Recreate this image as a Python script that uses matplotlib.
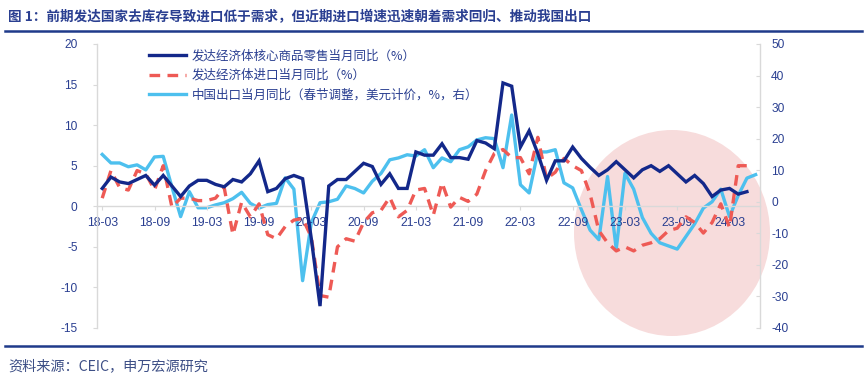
import matplotlib
matplotlib.use("Agg")
import matplotlib.pyplot as plt
from matplotlib.patches import Ellipse
from matplotlib.lines import Line2D

plt.rcParams['font.family'] = ['Noto Sans CJK SC', 'DejaVu Sans']
plt.rcParams['axes.unicode_minus'] = False

# ---- data (monthly, starting 2018-03) ----
tick_labels = ["18-03", "18-09", "19-03", "19-09", "20-03", "20-09", "21-03",
               "21-09", "22-03", "22-09", "23-03", "23-09", "24-03"]

core_retail = [2.2, 3.6, 3.0, 2.8, 3.3, 3.8, 2.6, 3.8, 2.5, 1.2, 2.5, 3.2,
               3.2, 2.7, 2.4, 3.3, 3.0, 4.0, 5.6, 1.8, 2.2, 3.4, 3.8, 3.4,
               -4.0, -12.3, 2.5, 3.3, 3.3, 4.3, 5.3, 4.9, 2.7, 4.0, 2.2, 2.2,
               6.7, 6.3, 6.3, 7.7, 6.0, 6.0, 5.8, 8.1, 7.8, 7.1, 15.2, 14.8,
               7.3, 9.3, 6.5, 3.2, 5.6, 5.6, 7.3, 5.9, 4.8, 3.8, 4.5, 5.5,
               4.5, 3.5, 4.5, 5.0, 4.3, 5.0, 4.0, 3.0, 3.8, 2.8, 1.2, 2.0,
               2.2, 1.5, 1.8]

dm_imports = [1.0, 4.4, 2.3, 2.0, 4.4, 4.0, 2.0, 5.0, -0.1, 1.0, 1.0, 0.7,
              0.7, 1.0, 2.3, -3.5, 0.5, -1.3, 0.3, -3.5, -4.0, -2.5, -1.7, -1.5,
              -3.8, -11.0, -11.2, -5.0, -4.0, -4.3, -2.0, -0.8, -0.5, 1.1, -1.3, -0.5,
              2.0, 2.2, -1.1, 2.9, -0.1, 1.1, 0.6, 1.5, 4.4, 6.5, 7.0, 6.0,
              6.0, 4.0, 8.5, 3.4, 4.2, 5.9, 5.0, 4.4, 1.5, -3.0, -4.5, -5.5,
              -5.0, -5.5, -4.8, -4.5, -4.0, -3.0, -2.7, -1.3, -2.0, -3.3, -2.0, 0.3,
              -2.6, 5.0, 5.0]

china_exports = [15.0, 12.3, 12.3, 11.1, 11.7, 10.1, 14.2, 14.4, 4.7, -4.7, 3.2, -1.9,
                 -1.9, -1.0, -0.3, 1.0, 3.0, -0.5, -2.0, -0.9, -0.5, 7.6, 4.0, -25.0,
                 -6.6, -0.3, 0.0, 0.8, 5.0, 4.2, 2.8, 6.5, 9.0, 13.3, 13.9, 14.9,
                 14.5, 16.5, 10.8, 13.9, 12.7, 16.5, 17.4, 19.6, 20.3, 20.0, 10.8, 27.5,
                 5.4, 2.8, 15.8, 15.8, 16.5, 6.0, 4.4, -2.5, -9.0, -12.0, 8.0, -15.0,
                 9.0, 4.0, -5.0, -10.0, -13.0, -14.0, -15.0, -11.0, -7.0, -2.0, 0.0, 4.0,
                 -4.7, 2.0, 7.5, 8.6]

legend_labels = ["发达经济体核心商品零售当月同比（%）",
                 "发达经济体进口当月同比（%）",
                 "中国出口当月同比（春节调整，美元计价，%，右）"]

title = "图 1：前期发达国家去库存导致进口低于需求，但近期进口增速迅速朝着需求回归、推动我国出口"
source = "资料来源：CEIC，申万宏源研究"

# ---- styles ----
NAVY = "#13288a"
RED = "#ee5a55"
LBLUE = "#4dc0ee"
TXT = "#2a3f91"
GRID = "#d9d9d9"

W, H = 865, 379
fig = plt.figure(figsize=(W / 100, H / 100), dpi=100)
fig.patch.set_facecolor("white")

ax = fig.add_axes([97 / W, 1 - 328 / H, (760 - 97) / W, (328 - 44) / H])
ax2 = ax.twinx()
ax.set_zorder(ax2.get_zorder() + 1)
ax.patch.set_visible(False)
ax2.patch.set_visible(False)

# pink highlight circle (behind all lines)
circ = Ellipse((672 / W, 1 - 233 / H), 196 / W, 206 / H, transform=fig.transFigure,
               facecolor="#f6d6d6", edgecolor="none", alpha=0.85, zorder=0, clip_on=False)
ax2.add_artist(circ)

x_core = list(range(len(core_retail)))
x_imp = list(range(len(dm_imports)))
x_exp = list(range(len(china_exports)))

l1, = ax.plot(x_core, core_retail, color=NAVY, lw=2.4, zorder=4, solid_joinstyle="miter")
l2, = ax.plot(x_imp, dm_imports, color=RED, lw=2.4, ls=(0, (3.2, 2.2)), zorder=3)
l3, = ax2.plot(x_exp, china_exports, color=LBLUE, lw=2.4, zorder=3)

ax.set_xlim(-0.6, 75.5)
ax.set_ylim(-15, 20)
ax2.set_ylim(-40, 50)
ax.set_yticks(range(-15, 21, 5))
ax2.set_yticks(range(-40, 51, 10))
ax.set_xticks(range(0, 73, 6))
ax.set_xticklabels(tick_labels)

for a in (ax, ax2):
    for s in a.spines.values():
        s.set_color(GRID)
        s.set_linewidth(1.0)
    a.spines["top"].set_visible(False)
ax.spines["bottom"].set_position(("data", 0))
ax2.spines["bottom"].set_visible(False)
ax.spines["right"].set_visible(False)
ax2.spines["left"].set_visible(False)

ax.tick_params(axis="y", colors=GRID, labelcolor=TXT, labelsize=8.6, length=3, direction="out", pad=11)
ax2.tick_params(axis="y", colors=GRID, labelcolor=TXT, labelsize=8.6, length=3, direction="in", pad=8)
ax.tick_params(axis="x", colors=GRID, labelcolor=TXT, labelsize=8.8, length=3, direction="out", pad=5)
for lab in ax.get_yticklabels() + ax2.get_yticklabels() + ax.get_xticklabels():
    lab.set_family(["Liberation Sans", "DejaVu Sans"])

leg = fig.legend([l1, l2, l3], legend_labels, loc="upper left",
                 bbox_to_anchor=(140 / W, 1 - 41 / H), frameon=False, fontsize=9.0,
                 handlelength=3.0, handletextpad=0.45, labelspacing=0.5, borderpad=0.2)
for t in leg.get_texts():
    t.set_color(TXT)

fig.text(8 / W, 1 - 17 / H, title, fontsize=9.8, fontweight="bold", color=TXT,
         va="center", ha="left")
fig.add_artist(Line2D([5 / W, 862 / W], [1 - 31 / H, 1 - 31 / H], color="#1f3a8a", lw=1.8))
fig.add_artist(Line2D([5 / W, 862 / W], [1 - 346 / H, 1 - 346 / H], color="#1f3a8a", lw=1.8))
fig.text(8 / W, 1 - 366 / H, source, fontsize=10.2, color="#3d4f86", va="center", ha="left")

fig.savefig("out.png", dpi=100)
